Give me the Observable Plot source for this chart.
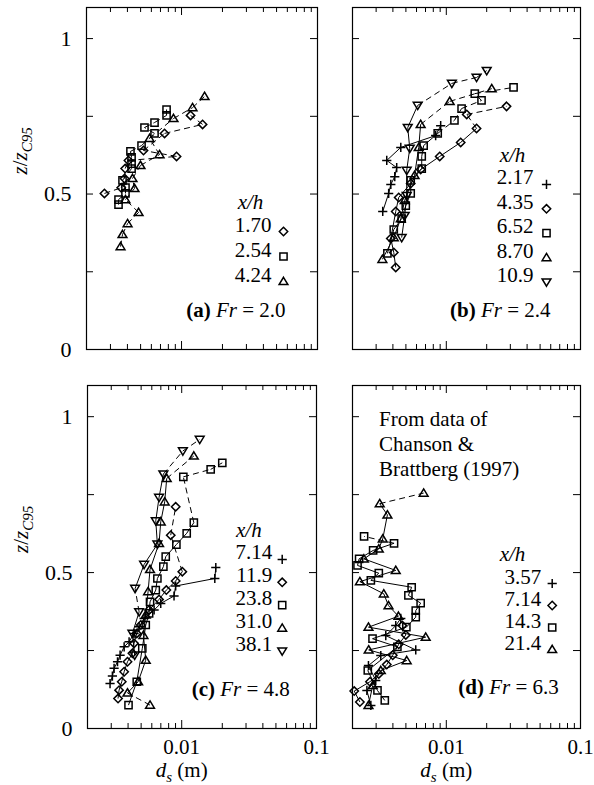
<!DOCTYPE html>
<html><head><meta charset="utf-8">
<script src="https://cdn.jsdelivr.net/npm/d3@7"></script>
<script src="https://cdn.jsdelivr.net/npm/@observablehq/plot@0.6"></script>
<style>
body{margin:0;background:#fff;}
#root{position:relative;width:594px;height:785px;background:#fff;}
#root svg{position:absolute;overflow:visible;}
</style></head><body><div id="root"></div>
<script>
// ---------- data: [d_s (m), z/zC95] ----------
// (a) Fr = 2.0
const fr20_x170 = [[0.00271,0.502],[0.0036,0.52],[0.00381,0.55],[0.00385,0.582],[0.00407,0.608],[0.00919,0.621],[0.00525,0.64],[0.0075,0.695],[0.01428,0.724],[0.01165,0.753]];
const fr20_x254 = [[0.00344,0.466],[0.00344,0.482],[0.00387,0.502],[0.00387,0.521],[0.00368,0.544],[0.00429,0.582],[0.00429,0.598],[0.00429,0.618],[0.00421,0.637],[0.00508,0.656],[0.00633,0.695],[0.00534,0.714],[0.00633,0.73],[0.00776,0.753],[0.00776,0.772]];
const fr20_x424 = [[0.00356,0.331],[0.00368,0.37],[0.00401,0.405],[0.00483,0.441],[0.00387,0.482],[0.00451,0.518],[0.00436,0.55],[0.00499,0.592],[0.00689,0.627],[0.00582,0.679],[0.00873,0.743],[0.01205,0.778],[0.01477,0.814]];
// (b) Fr = 2.4
const fr24_x217 = [[0.00336,0.444],[0.00372,0.502],[0.00386,0.531],[0.00413,0.556],[0.00427,0.585],[0.0036,0.608],[0.00458,0.65],[0.00833,0.688],[0.00908,0.72]];
const fr24_x435 = [[0.0042,0.264],[0.00406,0.312],[0.00386,0.357],[0.0042,0.444],[0.00442,0.489],[0.00543,0.534],[0.00644,0.579],[0.00893,0.621],[0.0128,0.666],[0.0168,0.711],[0.0142,0.756],[0.0281,0.782]];
const fr24_x652 = [[0.00364,0.309],[0.00406,0.386],[0.00465,0.421],[0.00499,0.463],[0.00543,0.502],[0.00543,0.544],[0.00656,0.582],[0.00656,0.621],[0.00678,0.656],[0.00863,0.695],[0.0115,0.737],[0.013,0.775],[0.0183,0.801],[0.0163,0.823],[0.0317,0.843]];
const fr24_x870 = [[0.00334,0.29],[0.00406,0.36],[0.00458,0.421],[0.0049,0.48],[0.0058,0.56],[0.00623,0.65],[0.00644,0.724],[0.0106,0.798],[0.0218,0.839]];
const fr24_x109 = [[0.00465,0.36],[0.0049,0.431],[0.00507,0.495],[0.00507,0.576],[0.00534,0.647],[0.00516,0.714],[0.00612,0.785],[0.011,0.856],[0.0168,0.875],[0.02,0.897]];
// (c) Fr = 4.8
const fr48_x714 = [[0.00294,0.144],[0.00306,0.168],[0.00315,0.193],[0.00334,0.214],[0.00349,0.235],[0.00374,0.262],[0.00407,0.278],[0.00443,0.305],[0.00483,0.326],[0.00526,0.353],[0.00624,0.38],[0.00699,0.401],[0.00877,0.425],[0.00902,0.457],[0.0176,0.481],[0.0179,0.516]];
const fr48_x119 = [[0.00337,0.096],[0.00343,0.123],[0.00359,0.15],[0.00374,0.182],[0.00396,0.214],[0.00431,0.241],[0.00443,0.273],[0.00464,0.305],[0.00497,0.332],[0.00573,0.38],[0.00679,0.414],[0.00769,0.444],[0.00902,0.473],[0.0101,0.503],[0.00829,0.62],[0.00902,0.711]];
const fr48_x238 = [[0.00403,0.075],[0.00464,0.15],[0.0051,0.257],[0.00541,0.332],[0.00573,0.369],[0.00582,0.406],[0.00642,0.444],[0.0066,0.481],[0.00731,0.519],[0.00761,0.551],[0.00913,0.59],[0.01089,0.626],[0.0123,0.66],[0.01028,0.807],[0.0164,0.831],[0.02,0.852]];
const fr48_x310 = [[0.00582,0.075],[0.00396,0.114],[0.00475,0.15],[0.00541,0.219],[0.0052,0.299],[0.00541,0.364],[0.00563,0.439],[0.00582,0.51],[0.00679,0.594],[0.00699,0.663],[0.00748,0.727],[0.00774,0.802],[0.0123,0.874]];
const fr48_x381 = [[0.00448,0.235],[0.00431,0.305],[0.00483,0.374],[0.00451,0.449],[0.00526,0.526],[0.0066,0.591],[0.00642,0.666],[0.00679,0.741],[0.00731,0.816],[0.0102,0.89],[0.0136,0.927]];
// (d) Fr = 6.3
const fr63_x357 = [[0.00274,0.074],[0.00256,0.122],[0.00298,0.154],[0.00263,0.202],[0.00325,0.234],[0.00592,0.252],[0.00354,0.298],[0.0042,0.33],[0.00458,0.353]];
const fr63_x714 = [[0.00227,0.085],[0.00206,0.12],[0.0027,0.15],[0.00314,0.175],[0.0036,0.205],[0.00399,0.235],[0.00442,0.27],[0.00499,0.3],[0.0047,0.33]];
const fr63_x143 = [[0.00348,0.09],[0.00307,0.122],[0.0026,0.186],[0.00432,0.262],[0.00282,0.288],[0.00504,0.325],[0.00592,0.357],[0.00592,0.378],[0.00644,0.402],[0.00522,0.427],[0.00552,0.453],[0.00274,0.475],[0.00314,0.498],[0.00218,0.523],[0.00224,0.544],[0.00285,0.571],[0.00408,0.594],[0.00244,0.616]];
const fr63_x214 = [[0.00263,0.074],[0.00283,0.138],[0.00325,0.186],[0.00507,0.218],[0.00264,0.252],[0.00702,0.293],[0.00263,0.325],[0.0044,0.36],[0.00371,0.394],[0.00342,0.432],[0.00227,0.471],[0.0042,0.507],[0.00243,0.544],[0.00314,0.576],[0.00336,0.608],[0.00364,0.685],[0.00319,0.721],[0.00678,0.755]];

// ---------- ticks / labels ----------
const minorTicks = [0.003,0.004,0.005,0.006,0.007,0.008,0.009,0.02,0.03,0.04,0.05,0.06,0.07,0.08,0.09];
const majorTicks = [0.01];
const xTickLabels = [0.01, 0.1];
const yTicks = [0.25, 0.5, 0.75, 1];
const yTickLabels = [0, 0.5, 1];
const xDomain = [0.002, 0.1];
const yDomain = [0, 1.1];
const noteLines = ["From data of", "Chanson &", "Brattberg (1997)"];

const panels = [
  {key:"a", letter:"(a)", fr:"2.0", series:[
    {name:"fr20_x170", xh:"1.70", sym:"diamond", pts:fr20_x170},
    {name:"fr20_x254", xh:"2.54", sym:"square", pts:fr20_x254},
    {name:"fr20_x424", xh:"4.24", sym:"triangle", pts:fr20_x424}]},
  {key:"b", letter:"(b)", fr:"2.4", series:[
    {name:"fr24_x217", xh:"2.17", sym:"plus", pts:fr24_x217},
    {name:"fr24_x435", xh:"4.35", sym:"diamond", pts:fr24_x435},
    {name:"fr24_x652", xh:"6.52", sym:"square", pts:fr24_x652},
    {name:"fr24_x870", xh:"8.70", sym:"triangle", pts:fr24_x870},
    {name:"fr24_x109", xh:"10.9", sym:"triangleDown", pts:fr24_x109}]},
  {key:"c", letter:"(c)", fr:"4.8", series:[
    {name:"fr48_x714", xh:"7.14", sym:"plus", pts:fr48_x714},
    {name:"fr48_x119", xh:"11.9", sym:"diamond", pts:fr48_x119},
    {name:"fr48_x238", xh:"23.8", sym:"square", pts:fr48_x238},
    {name:"fr48_x310", xh:"31.0", sym:"triangle", pts:fr48_x310},
    {name:"fr48_x381", xh:"38.1", sym:"triangleDown", pts:fr48_x381}]},
  {key:"d", letter:"(d)", fr:"6.3", series:[
    {name:"fr63_x357", xh:"3.57", sym:"plus", pts:fr63_x357},
    {name:"fr63_x714", xh:"7.14", sym:"diamond", pts:fr63_x714},
    {name:"fr63_x143", xh:"14.3", sym:"square", pts:fr63_x143},
    {name:"fr63_x214", xh:"21.4", sym:"triangle", pts:fr63_x214}]}
];

// ---------- style: dashed segments (index of segment start) ----------
const dashed = {
  fr20_x170:"all", fr20_x254:"all", fr20_x424:"all",
  fr24_x435:[9,10], fr24_x652:[9,10,11,12,13], fr24_x870:[6,7], fr24_x109:[6,7,8],
  fr48_x119:[13,14], fr48_x238:[12,13,14], fr48_x310:[0,11], fr48_x381:[2,8,9],
  fr63_x143:[16], fr63_x214:[16]
};

// ---------- layout ----------
const layout = {
  a:{left:0, top:0, w:330, h:370, m:[7,13,21,86], yLab:true, xLab:false,
     leg:{last:68, step:25, gap:22.5, num:46, sym:34, xh:67, lab:[32,33]}},
  b:{left:330, top:0, w:264, h:370, m:[7,14,21,22], yLab:false, xLab:false,
     leg:{last:67.5, step:24.4, gap:22.5, num:47, sym:34, xh:68, lab:[30,32.5]}},
  c:{left:0, top:370, w:330, h:415, m:[15,14,57,87], yLab:true, xLab:true,
     leg:{last:77.5, step:22.9, gap:22.5, num:44.3, sym:34.3, xh:67.7, lab:[26.7,33]}},
  d:{left:330, top:370, w:264, h:415, m:[15,14,57,22], yLab:false, xLab:true,
     leg:{last:79, step:22, gap:22.5, num:39.3, sym:28.3, xh:68, lab:[21.7,35]},
     note:{dx:26.6, dy:[26,51,76]}}
};

const FONT = '"Liberation Serif", "Times New Roman", serif';
const FS = 21;
const TFS = 22;
const R = 4.0;
const MSW = 1.5;

const S = {
  diamond:{draw(c,s){const r=Math.sqrt(s/Math.PI)*1.05;c.moveTo(0,-r);c.lineTo(r,0);c.lineTo(0,r);c.lineTo(-r,0);c.closePath();}},
  square:{draw(c,s){const r=Math.sqrt(s/Math.PI)*0.9;c.moveTo(-r,-r);c.lineTo(r,-r);c.lineTo(r,r);c.lineTo(-r,r);c.closePath();}},
  triangle:{draw(c,s){const r=Math.sqrt(s/Math.PI);const w=1.1*r;c.moveTo(0,-1.05*r);c.lineTo(w,0.78*r);c.lineTo(-w,0.78*r);c.closePath();}},
  triangleDown:{draw(c,s){const r=Math.sqrt(s/Math.PI);const w=1.1*r;c.moveTo(0,1.05*r);c.lineTo(w,-0.78*r);c.lineTo(-w,-0.78*r);c.closePath();}},
  plus:{draw(c,s){const r=Math.sqrt(s/Math.PI)*1.15;c.moveTo(-r,0);c.lineTo(r,0);c.moveTo(0,-r);c.lineTo(0,r);}}
};

const RICH = {
  "§y": [["z",{"font-style":"italic"}],["/",{}],["z",{"font-style":"italic"}],["C95",{"font-style":"italic","font-size":15,dy:5}]],
  "§x": [["d",{"font-style":"italic"}],["s",{"font-style":"italic","font-size":15,dy:5}],[" (m)",{dy:-5}]]
};
for (const p of panels) RICH["§" + p.key] = [[p.letter,{"font-weight":"bold"}],[" ",{}],["Fr",{"font-style":"italic"}],[" = " + p.fr,{}]];

function richify(svg){
  d3.select(svg).selectAll("text").each(function(){
    const spec = RICH[this.textContent];
    if (!spec) return;
    const sel = d3.select(this).style("white-space","pre");
    sel.text(null);
    for (const [str, at] of spec){
      const ts = sel.append("tspan").text(str);
      for (const k in at) ts.attr(k, at[k]);
    }
  });
}

const root = document.getElementById("root");

for (const p of panels){
  const L = layout[p.key];
  const [mt, mr, mb, ml] = L.m;
  const W = L.w - ml - mr, H = L.h - mt - mb;
  const solid = [], dash = [];
  for (const s of p.series){
    const ds = dashed[s.name];
    for (let i = 0; i < s.pts.length - 1; i++){
      const seg = {x1:s.pts[i][0], y1:s.pts[i][1], x2:s.pts[i+1][0], y2:s.pts[i+1][1]};
      (ds === "all" || (ds && ds.includes(i)) ? dash : solid).push(seg);
    }
  }
  const marks = [];
  // inward ticks on all four sides
  marks.push(Plot.tickX(minorTicks, {x:d=>d, insetBottom:H-5, stroke:"black"}));
  marks.push(Plot.tickX(minorTicks, {x:d=>d, insetTop:H-5, stroke:"black"}));
  marks.push(Plot.tickX(majorTicks, {x:d=>d, insetBottom:H-8, stroke:"black"}));
  marks.push(Plot.tickX(majorTicks, {x:d=>d, insetTop:H-8, stroke:"black"}));
  marks.push(Plot.tickY(yTicks, {y:d=>d, insetRight:W-7, stroke:"black"}));
  marks.push(Plot.tickY(yTicks, {y:d=>d, insetLeft:W-7, stroke:"black"}));
  marks.push(Plot.frame({stroke:"black", strokeWidth:1.2}));
  // lines
  marks.push(Plot.link(solid, {x1:"x1", y1:"y1", x2:"x2", y2:"y2", stroke:"black", strokeWidth:1}));
  marks.push(Plot.link(dash, {x1:"x1", y1:"y1", x2:"x2", y2:"y2", stroke:"black", strokeWidth:1, strokeDasharray:"6,4"}));
  // points
  for (const s of p.series){
    marks.push(Plot.dot(s.pts, {x:d=>d[0], y:d=>d[1], symbol:S[s.sym], r:R, stroke:"black", fill:"none", strokeWidth:MSW}));
  }
  // legend
  const g = L.leg, n = p.series.length;
  p.series.forEach((s, i) => {
    const dy = -(g.last + g.step * (n - 1 - i));
    marks.push(Plot.text([s.xh], {frameAnchor:"bottom-right", text:d=>d, dx:-g.num, dy, textAnchor:"end", fontSize:FS, fontFamily:FONT, fill:"black"}));
    marks.push(Plot.dot([s.xh], {frameAnchor:"bottom-right", dx:-g.sym, dy, symbol:S[s.sym], r:R, stroke:"black", fill:"none", strokeWidth:MSW}));
  });
  marks.push(Plot.text(["x/h"], {frameAnchor:"bottom-right", text:d=>d, dx:-g.xh, dy:-(g.last + g.step*(n-1) + g.gap), textAnchor:"middle", fontStyle:"italic", fontSize:FS, fontFamily:FONT, fill:"black"}));
  marks.push(Plot.text(["§" + p.key], {frameAnchor:"bottom-right", text:d=>d, dx:-g.lab[0], dy:-g.lab[1], textAnchor:"end", fontSize:FS, fontFamily:FONT, fill:"black"}));
  if (L.note){
    noteLines.forEach((t, i) => marks.push(Plot.text([t], {frameAnchor:"top-left", text:d=>d, dx:L.note.dx, dy:L.note.dy[i], textAnchor:"start", fontSize:FS, fontFamily:FONT, fill:"black"})));
  }
  // axes labels
  if (L.yLab){
    marks.push(Plot.axisY(yTickLabels, {tickSize:0, tickPadding:15, tickFormat:d=>String(d), fontSize:TFS, fontFamily:FONT, label:null}));
    marks.push(Plot.text(["§y"], {frameAnchor:"left", text:d=>d, dx:-66, dy:-4, rotate:-90, fontSize:FS, fontFamily:FONT, fill:"black"}));
  }
  if (L.xLab){
    marks.push(Plot.axisX(xTickLabels, {tickSize:0, tickPadding:11, tickFormat:d=>String(d), fontSize:FS, fontFamily:FONT, label:null}));
    marks.push(Plot.text(majorTicks, {x:d=>d, frameAnchor:"bottom", text:()=>"§x", dy:48, fontSize:FS, fontFamily:FONT, fill:"black"}));
  }
  const xOpt = {type:"log", domain:xDomain};
  const yOpt = {domain:yDomain};
  if (!L.xLab) xOpt.axis = null;
  if (!L.yLab) yOpt.axis = null;
  const svg = Plot.plot({
    width:L.w, height:L.h, marginTop:mt, marginRight:mr, marginBottom:mb, marginLeft:ml,
    x:xOpt, y:yOpt,
    style:{fontFamily:FONT, fontSize:FS + "px", color:"black", background:"transparent", overflow:"visible"},
    marks
  });
  richify(svg);
  svg.style.left = L.left + "px";
  svg.style.top = L.top + "px";
  root.appendChild(svg);
}
</script></body></html>
